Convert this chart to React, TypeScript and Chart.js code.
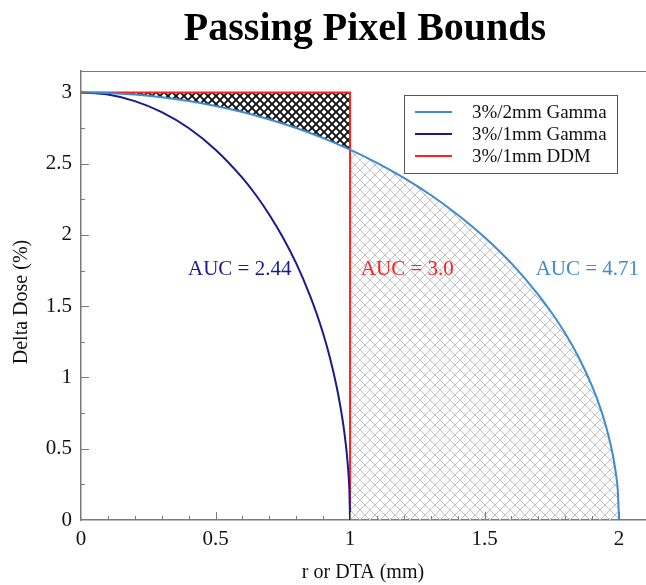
import React, { useEffect, useRef } from "react";
import { Chart, registerables } from "chart.js";

Chart.register(...registerables);

// 3%/2mm Gamma boundary
const gamma2X = [0, 0.1, 0.2, 0.3, 0.4, 0.5, 0.6, 0.7, 0.8, 0.9, 1.0, 1.1, 1.2, 1.3, 1.4, 1.5, 1.6, 1.7, 1.75, 1.8, 1.85, 1.9, 1.93, 1.95, 1.97, 1.98, 1.99, 1.995, 2.0];
const gamma2Y = [3, 2.996, 2.985, 2.966, 2.939, 2.905, 2.862, 2.81, 2.75, 2.679, 2.598, 2.505, 2.4, 2.28, 2.142, 1.984, 1.8, 1.58, 1.452, 1.308, 1.14, 0.937, 0.787, 0.667, 0.518, 0.423, 0.3, 0.212, 0];

// 3%/1mm Gamma boundary
const gamma1X = [0, 0.1, 0.2, 0.3, 0.4, 0.5, 0.6, 0.65, 0.7, 0.75, 0.8, 0.85, 0.875, 0.9, 0.925, 0.95, 0.965, 0.975, 0.985, 0.99, 0.995, 0.9975, 1.0];
const gamma1Y = [3, 2.985, 2.939, 2.862, 2.75, 2.598, 2.4, 2.28, 2.142, 1.984, 1.8, 1.58, 1.452, 1.308, 1.14, 0.937, 0.787, 0.667, 0.518, 0.423, 0.3, 0.212, 0];

// 3%/1mm DDM boundary
const ddmX = [0, 1, 1];
const ddmY = [3, 3, 0];

const seriesNames = ["3%/2mm Gamma", "3%/1mm Gamma", "3%/1mm DDM"];
const seriesColors = ["#3d8bd0", "#1a1a8e", "#ff2020"];

const aucLabels = ["AUC = 2.44", "AUC = 3.0", "AUC = 4.71"];
const aucX = [0.59, 1.04, 1.69];
const aucY = [1.757, 1.757, 1.757];
const aucAlign = ["center", "left", "left"];

const xMajor = [0, 0.5, 1, 1.5, 2];
const yMajor = [0, 0.5, 1, 1.5, 2, 2.5, 3];

const titleText = "Passing Pixel Bounds";
const xTitle = "r or DTA (mm)";
const yTitle = "Delta Dose (%)";

const SERIF = '"Liberation Serif", "Times New Roman", serif';

function makeHatch(size: number, color: string, width: number, bg: string | null) {
  const c = document.createElement("canvas");
  c.width = size;
  c.height = size;
  const g = c.getContext("2d")!;
  if (bg) {
    g.fillStyle = bg;
    g.fillRect(0, 0, size, size);
  }
  g.strokeStyle = color;
  g.lineWidth = width;
  g.beginPath();
  g.moveTo(-1, -1);
  g.lineTo(size + 1, size + 1);
  g.moveTo(-1, size + 1);
  g.lineTo(size + 1, -1);
  g.stroke();
  return g.createPattern(c, "repeat")!;
}

export default function App() {
  const ref = useRef<HTMLCanvasElement | null>(null);

  useEffect(() => {
    const canvas = ref.current!;
    const darkHatch = makeHatch(8, "#111", 1.9, null);
    const lightHatch = makeHatch(10, "#c2c2c2", 1, null);

    const g2 = gamma2X.map((x, i) => ({ x, y: gamma2Y[i] }));
    const g1 = gamma1X.map((x, i) => ({ x, y: gamma1Y[i] }));
    const ddm = ddmX.map((x, i) => ({ x, y: ddmY[i] }));
    const g2Left = g2.filter((p) => p.x <= 1);
    const g2Right = g2.filter((p) => p.x >= 1);

    const decor = {
      id: "decor",
      afterDatasetsDraw(chart: any) {
        const { ctx, chartArea, scales } = chart;
        const { left, right, top, bottom } = chartArea;
        const xs = scales.x;
        const ys = scales.y;
        ctx.save();
        // top frame line
        ctx.strokeStyle = "#7a7a7a";
        ctx.lineWidth = 1.2;
        ctx.beginPath();
        ctx.moveTo(left, top + 0.5);
        ctx.lineTo(right, top + 0.5);
        ctx.stroke();
        // inward ticks
        ctx.lineWidth = 1;
        ctx.beginPath();
        for (let i = 1; i <= 21; i++) {
          const v = i / 10;
          const px = Math.round(xs.getPixelForValue(v)) + 0.5;
          if (px > right) continue;
          const len = i % 5 === 0 ? 8 : 4;
          ctx.moveTo(px, bottom);
          ctx.lineTo(px, bottom - len);
        }
        for (let i = 1; i <= 12; i++) {
          const v = i * 0.25;
          const py = Math.round(ys.getPixelForValue(v)) + 0.5;
          const len = i % 2 === 0 ? 8 : 4;
          ctx.moveTo(left, py);
          ctx.lineTo(left + len, py);
        }
        ctx.stroke();

        // AUC labels
        ctx.font = "21px " + SERIF;
        ctx.textBaseline = "middle";
        aucLabels.forEach((t, i) => {
          ctx.fillStyle = seriesColors[i === 0 ? 1 : i === 1 ? 2 : 0];
          ctx.textAlign = aucAlign[i];
          ctx.fillText(t, xs.getPixelForValue(aucX[i]), ys.getPixelForValue(aucY[i]));
        });

        // legend box
        const bx = 404, by = 95, bw = 213, bh = 78;
        ctx.fillStyle = "#fff";
        ctx.fillRect(bx, by, bw, bh);
        ctx.strokeStyle = "#555";
        ctx.lineWidth = 1;
        ctx.strokeRect(bx + 0.5, by + 0.5, bw, bh);
        ctx.font = "19px " + SERIF;
        ctx.textAlign = "left";
        ctx.textBaseline = "middle";
        seriesNames.forEach((n, i) => {
          const yy = 112 + i * 22;
          ctx.strokeStyle = seriesColors[i];
          ctx.lineWidth = 2;
          ctx.beginPath();
          ctx.moveTo(415, yy);
          ctx.lineTo(452, yy);
          ctx.stroke();
          ctx.fillStyle = "#111";
          ctx.fillText(n, 472, yy + 1);
        });

        // title
        ctx.fillStyle = "#000";
        ctx.font = "bold 40px " + SERIF;
        ctx.textAlign = "center";
        ctx.textBaseline = "alphabetic";
        ctx.fillText(titleText, 365, 40);

        // axis titles
        ctx.font = "20px " + SERIF;
        ctx.fillStyle = "#111";
        ctx.textBaseline = "middle";
        ctx.fillText(xTitle, 363, 573);
        ctx.save();
        ctx.translate(22, 302);
        ctx.rotate(-Math.PI / 2);
        ctx.fillText(yTitle, 0, 0);
        ctx.restore();
        ctx.restore();
      },
    };

    const chart = new Chart(canvas, {
      type: "line",
      data: {
        datasets: [
          {
            label: seriesNames[0],
            data: g2,
            borderColor: seriesColors[0],
            borderWidth: 2,
            pointRadius: 0,
            cubicInterpolationMode: "monotone",
            fill: false,
            order: 0,
          },
          {
            label: seriesNames[1],
            data: g1,
            borderColor: seriesColors[1],
            borderWidth: 2,
            pointRadius: 0,
            cubicInterpolationMode: "monotone",
            fill: false,
            order: 1,
          },
          {
            label: seriesNames[2],
            data: ddm,
            borderColor: seriesColors[2],
            borderWidth: 2,
            pointRadius: 0,
            tension: 0,
            fill: false,
            order: 2,
          },
          {
            label: "hatch-dark",
            data: g2Left,
            borderWidth: 0,
            borderColor: "rgba(0,0,0,0)",
            backgroundColor: darkHatch,
            pointRadius: 0,
            cubicInterpolationMode: "monotone",
            fill: { value: 3 },
            order: 10,
          },
          {
            label: "hatch-light",
            data: g2Right,
            borderWidth: 0,
            borderColor: "rgba(0,0,0,0)",
            backgroundColor: lightHatch,
            pointRadius: 0,
            cubicInterpolationMode: "monotone",
            fill: "origin",
            order: 11,
          },
        ] as any,
      },
      options: {
        animation: false,
        responsive: false,
        layout: { padding: { top: 71, left: 0, right: 0, bottom: 0 } },
        plugins: {
          legend: { display: false },
          title: { display: false },
          tooltip: { enabled: false },
        },
        scales: {
          x: {
            type: "linear",
            min: 0,
            max: 2.1,
            grid: { display: false, drawTicks: false },
            border: { display: true, color: "#7a7a7a", width: 1.5 },
            ticks: {
              stepSize: 0.5,
              includeBounds: false,
              padding: 7,
              color: "#111",
              font: { family: SERIF, size: 21 },
              callback: (v: any) => (xMajor.includes(Number(v)) ? String(v) : ""),
              maxRotation: 0,
              autoSkip: false,
            },
            afterFit: (s: any) => {
              s.height = 65;
            },
          },
          y: {
            type: "linear",
            min: 0,
            max: 3.15,
            grid: { display: false, drawTicks: false },
            border: { display: true, color: "#7a7a7a", width: 1.5 },
            ticks: {
              stepSize: 0.5,
              includeBounds: false,
              padding: 9,
              color: "#111",
              font: { family: SERIF, size: 21 },
              callback: (v: any) => (yMajor.includes(Number(v)) ? String(v) : ""),
              autoSkip: false,
            },
            afterFit: (s: any) => {
              s.width = 81;
            },
          },
        },
      } as any,
      plugins: [decor],
    });
    return () => chart.destroy();
  }, []);

  return (
    <div style={{ position: "absolute", left: 0, top: 0, width: 646, height: 585, background: "#fff" }}>
      <canvas ref={ref} width={646} height={585} style={{ display: "block" }} />
    </div>
  );
}
